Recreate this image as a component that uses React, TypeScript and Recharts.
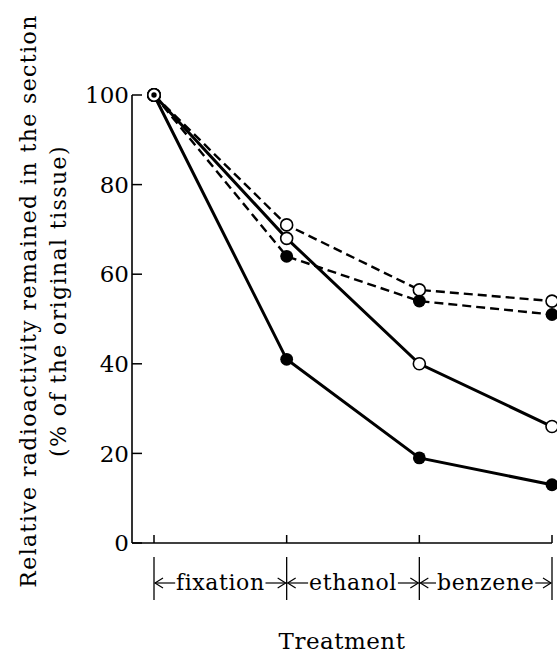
import React from 'react';
import { LineChart, Line, XAxis, YAxis, Label } from 'recharts';

// ---- data ----
const steps = [0, 1, 2, 3];
const treatments = ['fixation', 'ethanol', 'benzene'];
const filledSolid = [100, 41, 19, 13];
const openSolid = [100, 68, 40, 26];
const openDashed = [100, 71, 56.5, 54];
const filledDashed = [100, 64, 54, 51];
const yTicks = [0, 20, 40, 60, 80, 100];
const xTicks = [0, 0.5, 1, 1.5, 2, 2.5, 3];
const yLabel1 = 'Relative radioactivity remained in the section';
const yLabel2 = '(% of the original tissue)';
const xLabel = 'Treatment';

const data = steps.map((s, i) => ({
  step: s,
  filledSolid: filledSolid[i],
  openSolid: openSolid[i],
  openDashed: openDashed[i],
  filledDashed: filledDashed[i],
}));

// ---- layout ----
const W = 557;
const H = 657;
const MT = 95;
const MR = 5;
const YW = 132;
const XH = 114;
const PADL = 22;
const STEP = (W - MR - YW - PADL) / (steps.length - 1);
const FONT = '"DejaVu Serif", serif';
const TICK_FS = 23;
const CAT_FS = 22;
const CAT_LS = 0.6;

function textWidth(s: string, size: number, spacing: number): number {
  try {
    const c = document.createElement('canvas').getContext('2d');
    if (c) {
      c.font = `${size}px "DejaVu Serif"`;
      return c.measureText(s).width + spacing * s.length;
    }
  } catch (e) {}
  return s.length * size * 0.55;
}

const XTick = (props: any) => {
  const { x, y, payload } = props;
  const v = payload.value;
  if (Number.isInteger(v)) {
    return (
      <g>
        <line x1={x} x2={x} y1={y} y2={y - 8} stroke="#000" strokeWidth={1.5} />
        <line x1={x} x2={x} y1={y + 14} y2={y + 57} stroke="#000" strokeWidth={1.3} />
      </g>
    );
  }
  const label = treatments[Math.floor(v)];
  const hw = STEP / 2;
  const tw = textWidth(label, CAT_FS, CAT_LS);
  const ay = y + 40;
  const l0 = x - hw + 1;
  const l1 = x - tw / 2 - 1;
  const r0 = x + tw / 2 + 1;
  const r1 = x + hw - 1;
  return (
    <g>
      <line x1={l0} x2={l1} y1={ay} y2={ay} stroke="#000" strokeWidth={1.2} />
      <polyline points={`${l0 + 8},${ay - 5} ${l0},${ay} ${l0 + 8},${ay + 5}`} fill="none" stroke="#000" strokeWidth={1.2} />
      <line x1={r0} x2={r1} y1={ay} y2={ay} stroke="#000" strokeWidth={1.2} />
      <polyline points={`${r1 - 8},${ay - 5} ${r1},${ay} ${r1 - 8},${ay + 5}`} fill="none" stroke="#000" strokeWidth={1.2} />
      <text x={x} y={y + 47} textAnchor="middle" fontFamily={FONT} fontSize={CAT_FS} letterSpacing={CAT_LS} fill="#000">
        {label}
      </text>
    </g>
  );
};

const YTick = (props: any) => {
  const { x, y, payload } = props;
  return (
    <g>
      <line x1={x} x2={x + 10} y1={y} y2={y} stroke="#000" strokeWidth={1.5} />
      <text x={x - 3} y={y} dy="0.36em" textAnchor="end" fontFamily={FONT} fontSize={TICK_FS} fill="#000">
        {payload.value}
      </text>
    </g>
  );
};

const YLabelContent = (props: any) => {
  const vb = props.viewBox || { x: 0, y: MT, width: YW, height: 448 };
  const cy = vb.y + vb.height / 2 - 18;
  const b1 = vb.x + 36;
  const b2 = vb.x + 66;
  return (
    <g>
      <text x={b1} y={cy} transform={`rotate(-90, ${b1}, ${cy})`} textAnchor="middle" fontFamily={FONT} fontSize={22} letterSpacing={1.4} fill="#000">
        {yLabel1}
      </text>
      <text x={b2} y={cy} transform={`rotate(-90, ${b2}, ${cy})`} textAnchor="middle" fontFamily={FONT} fontSize={22} letterSpacing={1.4} fill="#000">
        {yLabel2}
      </text>
    </g>
  );
};

const XLabelContent = (props: any) => {
  const vb = props.viewBox || { x: YW, y: H - XH, width: W - YW - MR, height: XH };
  return (
    <text x={vb.x + vb.width / 2} y={vb.y + vb.height - 8} textAnchor="middle" fontFamily={FONT} fontSize={23} letterSpacing={0.5} fill="#000">
      {xLabel}
    </text>
  );
};

const makeDot = (filled: boolean) => (props: any) => {
  const { cx, cy, index } = props;
  const k = `${filled ? 'f' : 'o'}-${props.dataKey}-${index}`;
  if (cx == null || cy == null) return <g key={k} />;
  if (index === 0) {
    return (
      <g key={k}>
        <circle cx={cx} cy={cy} r={6.2} fill="#fff" stroke="#000" strokeWidth={1.6} />
        <circle cx={cx} cy={cy} r={2.7} fill="#000" />
      </g>
    );
  }
  if (filled) return <circle key={k} cx={cx} cy={cy} r={6.4} fill="#000" />;
  return <circle key={k} cx={cx} cy={cy} r={6} fill="#fff" stroke="#000" strokeWidth={1.6} />;
};

export default function App() {
  return (
    <div style={{ position: 'absolute', left: 0, top: 0, width: W, height: H, background: '#fff' }}>
      <LineChart width={W} height={H} data={data} margin={{ top: MT, right: MR, bottom: 0, left: 0 }}>
        <XAxis
          dataKey="step"
          type="number"
          domain={[0, 3]}
          ticks={xTicks}
          interval={0}
          allowDecimals
          tickLine={false}
          tickSize={0}
          tickMargin={0}
          tick={<XTick />}
          axisLine={{ stroke: '#000', strokeWidth: 1.6 }}
          padding={{ left: PADL, right: 0 }}
          height={XH}
        >
          <Label content={<XLabelContent />} />
        </XAxis>
        <YAxis
          type="number"
          domain={[0, 100]}
          ticks={yTicks}
          interval={0}
          tickLine={false}
          tickSize={0}
          tickMargin={0}
          tick={<YTick />}
          axisLine={{ stroke: '#000', strokeWidth: 1.6 }}
          width={YW}
        >
          <Label content={<YLabelContent />} />
        </YAxis>
        <Line dataKey="openDashed" stroke="#000" strokeWidth={2.4} strokeDasharray="9 5" dot={makeDot(false)} isAnimationActive={false} />
        <Line dataKey="filledDashed" stroke="#000" strokeWidth={2.4} strokeDasharray="9 5" dot={makeDot(true)} isAnimationActive={false} />
        <Line dataKey="openSolid" stroke="#000" strokeWidth={3} dot={makeDot(false)} isAnimationActive={false} />
        <Line dataKey="filledSolid" stroke="#000" strokeWidth={3} dot={makeDot(true)} isAnimationActive={false} />
      </LineChart>
    </div>
  );
}
